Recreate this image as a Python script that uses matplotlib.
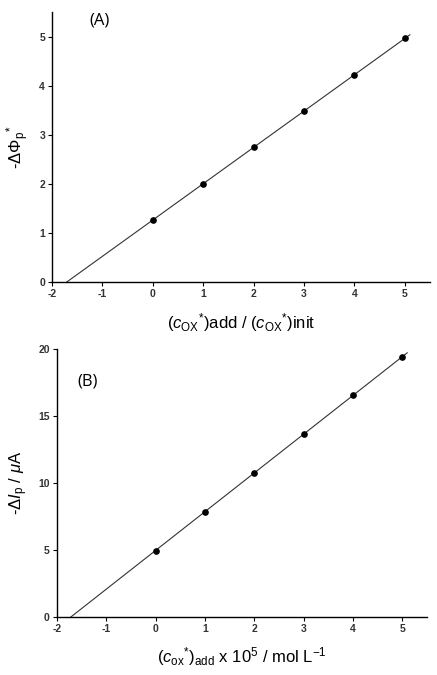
import matplotlib
matplotlib.use("Agg")

import matplotlib.pyplot as plt
import numpy as np

plt.rcParams["font.family"] = ["Liberation Sans", "DejaVu Sans"]
plt.rcParams["mathtext.fontset"] = "custom"
plt.rcParams["mathtext.rm"] = "Liberation Sans"
plt.rcParams["mathtext.it"] = "Liberation Sans:italic"
plt.rcParams["mathtext.bf"] = "Liberation Sans:bold"
plt.rcParams["axes.unicode_minus"] = False

# panel A: relative additions vs -dPhi_p*
ratio_add = [0, 1, 2, 3, 4, 5]
dphi = [1.27, 2.00, 2.75, 3.48, 4.22, 4.97]

# panel B: added concentration (x 1e5 mol/L) vs -dI_p (uA)
conc_add = [0, 1, 2, 3, 4, 5]
dip = [4.95, 7.85, 10.75, 13.65, 16.55, 19.40]

x_ticks = [-2, -1, 0, 1, 2, 3, 4, 5]
fit_end = 5.1


def style_axes(ax):
    for side in ("top", "right"):
        ax.spines[side].set_visible(False)
    for side in ("left", "bottom"):
        ax.spines[side].set_linewidth(1.0)
    ax.tick_params(direction="out", length=3, width=0.8, labelsize=7.5, pad=2)
    for lab in ax.get_xticklabels() + ax.get_yticklabels():
        lab.set_fontweight("bold")
        lab.set_color("#333333")
    ax.set_xticks(x_ticks)


def draw_panel(ax, x, y, ylim, yticks):
    slope, icept = np.polyfit(x, y, 1)
    x0 = -icept / slope
    ax.plot([x0, fit_end], [0, slope * fit_end + icept], color="#333333", lw=0.8)
    ax.plot(x, y, "o", color="black", ms=3.8)
    ax.set_xlim(-2, 5.5)
    ax.set_ylim(*ylim)
    ax.set_yticks(yticks)
    style_axes(ax)
    ax.set_xticklabels([str(t) for t in x_ticks], fontweight="bold", color="#333333", fontsize=7.5)
    ax.set_yticklabels([str(t) for t in yticks], fontweight="bold", color="#333333", fontsize=7.5)


fig = plt.figure(figsize=(4.37, 6.75), dpi=100)

ax_a = fig.add_axes([0.119, 0.582, 0.865, 0.400])
draw_panel(ax_a, ratio_add, dphi, (0, 5.5), [0, 1, 2, 3, 4, 5])
ax_a.set_xlabel(r"$(c_{\mathrm{OX}}{}^{*})\mathrm{add}\ /\ (c_{\mathrm{OX}}{}^{*})\mathrm{init}$",
                fontsize=12, labelpad=9)
ax_a.set_ylabel(r"-$\Delta\Phi_{\mathrm{p}}{}^{*}$", fontsize=12, labelpad=6)
fig.text(0.205, 0.970, "(A)", fontsize=12, family="Open Sans", va="center")

ax_b = fig.add_axes([0.130, 0.086, 0.847, 0.397])
draw_panel(ax_b, conc_add, dip, (0, 20), [0, 5, 10, 15, 20])
ax_b.set_xlabel(r"$(c_{\mathrm{ox}}{}^{*})_{\mathrm{add}}\ \mathrm{x}\ 10^{5}\ /\ \mathrm{mol\ L^{-1}}$",
                fontsize=12, labelpad=8)
ax_b.set_ylabel(r"-$\Delta I_{\mathrm{p}}\ /\ \mu\mathrm{A}$", fontsize=12, labelpad=6)
fig.text(0.178, 0.435, "(B)", fontsize=12, family="Open Sans", va="center")

fig.savefig("out.png", dpi=100)
